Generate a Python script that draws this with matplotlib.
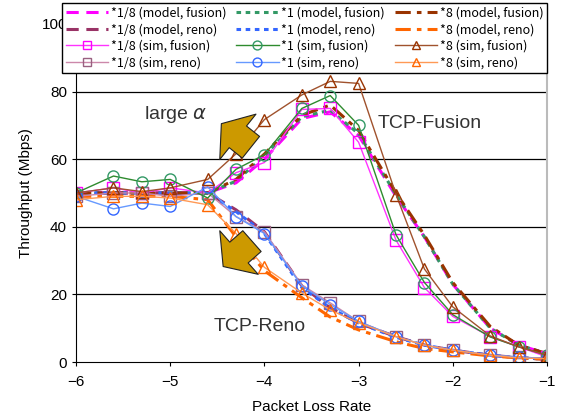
import matplotlib
matplotlib.use("Agg")
import matplotlib.pyplot as plt
import numpy as np
from matplotlib.patches import FancyArrowPatch

plt.rcParams["font.family"] = ["Liberation Sans", "DejaVu Sans"]

# packet loss rates (log10)
loss = np.log10([1e-6, 2.5e-6, 5e-6, 1e-5, 2.5e-5, 5e-5, 1e-4, 2.5e-4,
                 5e-4, 1e-3, 2.5e-3, 5e-3, 1e-2, 2.5e-2, 5e-2, 1e-1])

# model curves (Mbps)
model_fusion_18 = [50, 50, 50, 50, 50, 53, 60, 72, 74, 67, 49, 37, 23, 10, 5, 2.5]
model_fusion_1 = [50, 50, 50, 50, 50, 53.5, 61, 72.5, 74.5, 67.5, 49.5, 37, 23, 10, 5, 2.5]
model_fusion_8 = [50, 50, 50, 50, 50, 54, 61.5, 73, 76, 68.5, 50, 37.5, 23.5, 10.5, 5, 2.5]
model_reno_18 = [50, 50, 50, 50, 50, 45, 38.5, 22.5, 16, 11.5, 7.5, 5, 3.5, 2, 1.3, 0.8]
model_reno_1 = [50, 50, 50, 50, 50, 44.5, 38, 22, 16, 11.5, 7.3, 5, 3.5, 2, 1.3, 0.8]
model_reno_8 = [49, 49, 49, 49, 48, 37, 27, 19, 13.3, 9.5, 6, 4, 3, 1.8, 1.2, 0.8]

# simulation results (Mbps)
sim_fusion_18 = [50, 51.5, 50, 51.5, 50, 56, 59, 74.7, 75, 65, 36, 22, 13.5, 7.5, 4.5, 1.5]
sim_fusion_1 = [50, 55, 53.3, 54, 48.5, 57, 61.3, 75, 78.8, 70, 37.6, 23.5, 14, 7.4, 4.5, 2]
sim_fusion_8 = [50, 51.5, 50.4, 51.5, 54, 61.6, 71.7, 79, 83, 82.4, 49.5, 27.5, 16.3, 7.7, 4.5, 2]
sim_reno_18 = [49, 50, 50, 49, 50, 43, 38.5, 22.8, 17.5, 12, 7.5, 5, 3.6, 2, 1.5, 1]
sim_reno_1 = [49, 45.3, 47, 46, 51.8, 43, 38, 22.5, 17, 12, 7.5, 5, 3.5, 2, 1.5, 1]
sim_reno_8 = [48, 49, 49, 48.5, 46.5, 38, 28, 20.4, 15.4, 11.6, 7.5, 5, 3.5, 2, 1.2, 1]

fig = plt.figure(figsize=(5.61, 4.19), dpi=100)
ax = fig.add_axes([0.1355, 0.136, 0.8395, 0.807])

lw_m = 2.2
dash18 = (0, (4, 2.5))
dot1 = (0, (1.5, 1.5))
dashdot8 = (0, (5, 2, 1.5, 2))

h = {}
h["mf18"], = ax.plot(loss, model_fusion_18, color="#FF00FF", lw=lw_m, ls=dash18)
h["mr18"], = ax.plot(loss, model_reno_18, color="#993366", lw=lw_m, ls=dash18)
h["mf1"], = ax.plot(loss, model_fusion_1, color="#339966", lw=lw_m, ls=dot1)
h["mr1"], = ax.plot(loss, model_reno_1, color="#3366FF", lw=lw_m, ls=dot1)
h["mf8"], = ax.plot(loss, model_fusion_8, color="#993300", lw=lw_m, ls=dashdot8)
h["mr8"], = ax.plot(loss, model_reno_8, color="#FF6600", lw=lw_m, ls=dashdot8)

ms = 8
h["sf18"], = ax.plot(loss, sim_fusion_18, color="#FF33FF", lw=1, marker="s", ms=ms,
                     mfc="none", mec="#FF00FF")
h["sr18"], = ax.plot(loss, sim_reno_18, color="#CC88AA", lw=1, marker="s", ms=ms,
                     mfc="none", mec="#996080")
h["sf1"], = ax.plot(loss, sim_fusion_1, color="#2E8B2E", lw=1, marker="o", ms=ms,
                    mfc="none", mec="#339966")
h["sr1"], = ax.plot(loss, sim_reno_1, color="#6699FF", lw=1, marker="o", ms=ms,
                    mfc="none", mec="#3366FF")
h["sf8"], = ax.plot(loss, sim_fusion_8, color="#A0522D", lw=1, marker="^", ms=ms,
                    mfc="none", mec="#993300")
h["sr8"], = ax.plot(loss, sim_reno_8, color="#FF9955", lw=1, marker="^", ms=ms,
                    mfc="none", mec="#FF6600")

ax.set_xlim(-6, -1)
ax.set_ylim(0, 100)
ax.set_xticks([-6, -5, -4, -3, -2, -1])
ax.set_yticks([0, 20, 40, 60, 80, 100])
for yv in [20, 40, 60, 80]:
    ax.axhline(yv, color="black", lw=0.9, zorder=0)
ax.tick_params(labelsize=11, length=3)
ax.tick_params(axis="x", pad=6)
ax.spines["top"].set_visible(False)
ax.spines["right"].set_color("#BBBBBB")
ax.spines["right"].set_linewidth(1.5)
ax.set_xlabel("Packet Loss Rate", fontsize=11, labelpad=8)
ax.set_ylabel("Throughput (Mbps)", fontsize=11, labelpad=6)

# annotations
for tail, tip in [((-4.12, 63.0), (-4.48, 71.0)), ((-4.11, 36.3), (-4.46, 27.7))]:
    arr = FancyArrowPatch(tail, tip, arrowstyle="simple,head_width=2.2,head_length=0.8,tail_width=1.05",
                          mutation_scale=19, fc="#CC9900", ec="#222222", lw=0.8, zorder=5)
    ax.add_patch(arr)
ax.text(-4.94, 73.2, r"large $\alpha$", fontsize=14, color="#333333", ha="center", va="center")
ax.text(-2.24, 70.5, "TCP-Fusion", fontsize=14, color="#333333", ha="center", va="center")
ax.text(-4.05, 10.4, "TCP-Reno", fontsize=14, color="#333333", ha="center", va="center")

order = ["mf18", "mr18", "sf18", "sr18", "mf1", "mr1", "sf1", "sr1", "mf8", "mr8", "sf8", "sr8"]
labels = {
    "mf18": "*1/8 (model, fusion)", "mr18": "*1/8 (model, reno)",
    "sf18": "*1/8 (sim, fusion)", "sr18": "*1/8 (sim, reno)",
    "mf1": "*1 (model, fusion)", "mr1": "*1 (model, reno)",
    "sf1": "*1 (sim, fusion)", "sr1": "*1 (sim, reno)",
    "mf8": "*8 (model, fusion)", "mr8": "*8 (model, reno)",
    "sf8": "*8 (sim, fusion)", "sr8": "*8 (sim, reno)",
}
leg = fig.legend([h[k] for k in order], [labels[k] for k in order], ncol=3,
                 loc="upper left", bbox_to_anchor=(0.1105, 0.993), borderaxespad=0,
                 fancybox=False, framealpha=1, edgecolor="black",
                 prop={"family": ["Noto Sans CJK JP", "DejaVu Sans"], "size": 9},
                 handlelength=3.4, handletextpad=0.2, columnspacing=0.8,
                 labelspacing=0.28, borderpad=0.3, markerscale=0.8)
leg.get_frame().set_linewidth(1.0)
leg.set_zorder(10)

plt.savefig("out.png", dpi=100)
